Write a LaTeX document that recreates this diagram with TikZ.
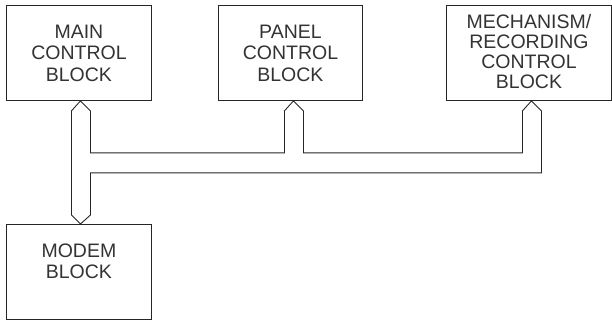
\documentclass[tikz,border=0pt]{standalone}
\usepackage{fontspec}
\setmainfont{Liberation Sans}
\usetikzlibrary{calc}
\begin{document}
\begin{tikzpicture}[x=1pt,y=-1pt,
  blk/.style={draw=black!85, line width=0.9pt, text=black!80, align=center,
    inner sep=0pt, anchor=north west, font=\fontsize{19.5}{21.5}\selectfont},
  bus/.style={draw=black!85, line width=0.9pt, line join=miter}]
\path[use as bounding box] (0,0) rectangle (612,320);
\node[blk, minimum width=145pt, minimum height=95pt] (main) at (6,5) {MAIN\\CONTROL\\BLOCK};
\node[blk, minimum width=144pt, minimum height=95pt] (panel) at (218,5) {PANEL\\CONTROL\\BLOCK};
\node[blk, minimum width=165pt, minimum height=95pt, font=\fontsize{19.5}{20}\selectfont] (mech) at (446,5) {MECHANISM/\\RECORDING\\CONTROL\\BLOCK\\[-16pt]\mbox{}};
\node[blk, minimum width=145pt, minimum height=95pt] (modem) at (6,224) {MODEM\\BLOCK\\\mbox{}};
\coordinate (mt) at ($(main.south)+(1.5,0)$);
\coordinate (pt) at ($(panel.south)+(3,0)$);
\coordinate (kt) at ($(mech.south)+(2.5,0)$);
\coordinate (dt) at ($(modem.north)+(1.5,0)$);
\draw[bus] (mt) -- ++(-9,10) -- ($(dt)+(-9,-9)$) -- (dt) -- ($(dt)+(10,-9)$)
  -- ($(mt)+(10,72)$) -- ($(kt)+(10,72)$) -- ($(kt)+(10,10)$) -- (kt)
  -- ($(kt)+(-9,10)$) -- ($(kt)+(-9,52)$) -- ($(pt)+(10,52)$) -- ($(pt)+(10,10)$)
  -- (pt) -- ($(pt)+(-9,10)$) -- ($(pt)+(-9,52)$) -- ($(mt)+(10,52)$)
  -- ($(mt)+(10,10)$) -- cycle;
\end{tikzpicture}
\end{document}
